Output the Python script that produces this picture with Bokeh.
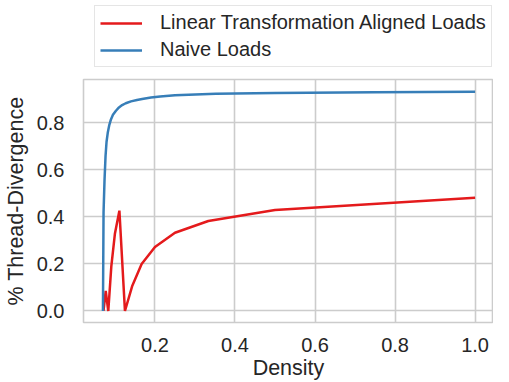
from bokeh.plotting import figure
from bokeh.layouts import column
from bokeh.models import Range1d, FixedTicker, PrintfTickFormatter, Legend, LegendItem
from bokeh.embed import file_html
from bokeh.resources import INLINE

# Data
naive_x = [0.0700, 0.0715, 0.0740, 0.0765, 0.0790, 0.0820, 0.0860, 0.0900, 0.0950,
           0.1025, 0.1100, 0.1180, 0.1270, 0.1400, 0.1550, 0.1680, 0.1900,
           0.2130, 0.2500, 0.3520, 0.5000, 0.7500, 1.0000]
naive_y = [0.000, 0.420, 0.560, 0.660, 0.720, 0.758, 0.792, 0.815, 0.835,
           0.852, 0.866, 0.876, 0.884, 0.892, 0.898, 0.902, 0.908,
           0.913, 0.918, 0.924, 0.928, 0.931, 0.933]

aligned_x = [1/14, 1/13, 1/12, 1/11, 1/10, 1/9, 1/8, 1/7, 1/6, 1/5, 1/4, 1/3, 1/2, 1.0]
aligned_y = [0.000, 0.085, 0.000, 0.190, 0.330, 0.427, 0.000, 0.105, 0.200,
             0.272, 0.333, 0.383, 0.430, 0.482]

x_ticks = [0.2, 0.4, 0.6, 0.8, 1.0]
y_ticks = [0.0, 0.2, 0.4, 0.6, 0.8]

series_labels = ["Linear Transformation Aligned Loads", "Naive Loads"]
series_colors = ["#e41a1c", "#377eb8"]

FONT = "Liberation Sans"
TXT = "#262626"
GRID = "#cccccc"

# ---- main plot ----
p = figure(width=493, height=307, output_backend="svg", toolbar_location=None,
           x_range=Range1d(0.0214, 1.046), y_range=Range1d(-0.049, 0.985),
           min_border_left=77, min_border_right=0, min_border_top=4, min_border_bottom=58)

r1 = p.line(aligned_x, aligned_y, line_color=series_colors[0], line_width=2.5)
r2 = p.line(naive_x, naive_y, line_color=series_colors[1], line_width=2.5)

p.xaxis.ticker = FixedTicker(ticks=x_ticks)
p.yaxis.ticker = FixedTicker(ticks=y_ticks)
for ax in (p.xaxis[0], p.yaxis[0]):
    ax.formatter = PrintfTickFormatter(format="%.1f")
    ax.axis_line_color = None
    ax.major_tick_line_color = None
    ax.minor_tick_line_color = None
    ax.major_label_text_font = FONT
    ax.major_label_text_font_size = "20px"
    ax.major_label_text_color = TXT
    ax.axis_label_text_font = FONT
    ax.axis_label_text_font_size = "21.5px"
    ax.axis_label_text_font_style = "normal"
    ax.axis_label_text_color = TXT

p.xaxis.axis_label = "Density"
p.yaxis.axis_label = "% Thread-Divergence"
p.xaxis.major_label_standoff = 9
p.xaxis.axis_label_standoff = 1
p.yaxis.major_label_standoff = 13
p.yaxis.axis_label_standoff = 6

p.xgrid.grid_line_color = GRID
p.ygrid.grid_line_color = GRID
p.xgrid.grid_line_width = 1.6
p.ygrid.grid_line_width = 1.6
p.outline_line_color = GRID
p.outline_line_width = 1.6
p.background_fill_color = "white"
p.border_fill_color = "white"

# ---- legend strip above the plot (its lines lie outside its own view) ----
lf = figure(width=493, height=75, output_backend="svg", toolbar_location=None,
            x_axis_location=None, y_axis_location=None,
            x_range=Range1d(5, 6), y_range=Range1d(5, 6),
            min_border=0, min_border_left=0, min_border_right=0,
            min_border_top=0, min_border_bottom=0)
lf.grid.visible = False
lf.outline_line_color = None
l1 = lf.line(aligned_x, aligned_y, line_color=series_colors[0], line_width=2.5)
l2 = lf.line(naive_x, naive_y, line_color=series_colors[1], line_width=2.5)

legend = Legend(items=[LegendItem(label=series_labels[0], renderers=[l1]),
                       LegendItem(label=series_labels[1], renderers=[l2])],
                location=(11, 8))
legend.label_text_font = FONT
legend.label_text_font_size = "20px"
legend.label_text_color = TXT
legend.border_line_color = GRID
legend.border_line_width = 1
legend.background_fill_alpha = 1
legend.glyph_width = 42
legend.glyph_height = 20
legend.label_height = 20
legend.label_standoff = 18
legend.spacing = 4
legend.padding = 5
legend.margin = 0
lf.add_layout(legend, "center")

layout = column(lf, p, spacing=0)
open("out.html", "w").write(file_html(layout, INLINE))
